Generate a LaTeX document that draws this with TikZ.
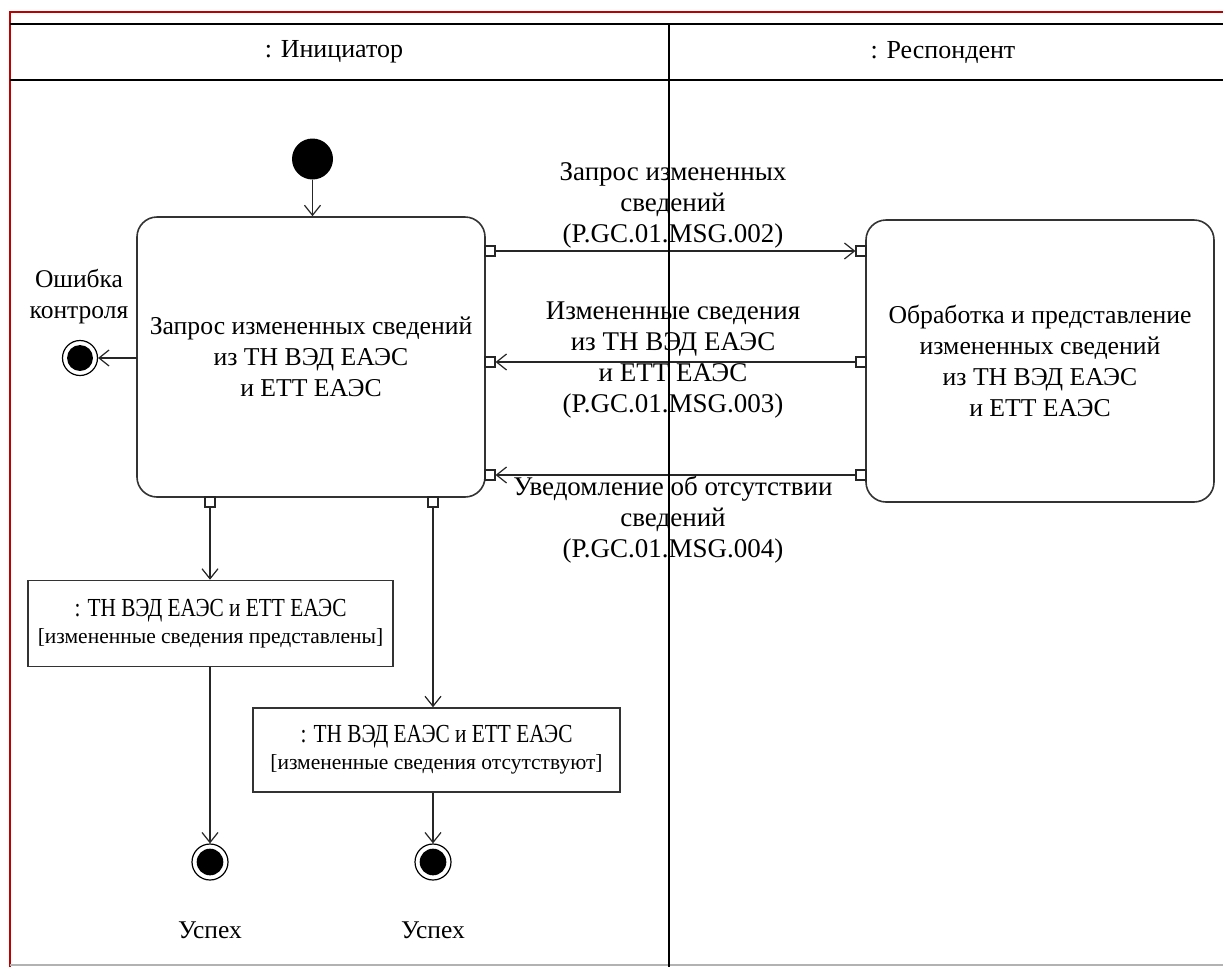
\documentclass[tikz,border=0pt]{standalone}
\usepackage{fontspec}
\setmainfont{Liberation Serif}
\usetikzlibrary{arrows.meta}
\begin{document}
\begin{tikzpicture}[x=1pt,y=-1pt,
  txt/.style={font=\fontsize{25.5}{31}\selectfont, align=center, inner sep=0pt},
  msg/.style={font=\fontsize{27}{31}\selectfont, align=center, inner sep=0pt},
  actbox/.style={draw=black!80, line width=1.6pt, rounded corners=20pt, fill=white, inner sep=0pt, align=center, font=\fontsize{25.7}{31}\selectfont},
  objbox/.style={draw=black!80, line width=1.6pt, fill=white, inner sep=0pt, align=center, font=\fontsize{21.5}{28}\selectfont},
  portbox/.style={draw=black!85, line width=1.2pt, fill=white, minimum size=10pt, inner sep=0pt},
  flow/.style={draw=black!85, line width=1.4pt, -{Straight Barb[length=10pt,width=16pt,line width=1.2pt]}},
  initnode/.style={circle, fill=black, minimum size=41pt, inner sep=0pt},
  finalnode/.style={circle, draw=black, line width=1.2pt, fill=white, minimum size=#1, inner sep=0pt,
     path picture={\fill[black] (path picture bounding box.center) circle (0.37*#1);}},
  lane/.style={draw=black, line width=1.5pt}
]
\useasboundingbox[fill=white] (0,0) rectangle (1223,967);

% frame
\draw[red!75!black, line width=1.3pt] (10,967) -- (10,12) -- (1223,12);
\draw[black!30, line width=1.2pt] (10,965) -- (1223,965);

% header texts
\node[txt, font=\fontsize{26}{31}\selectfont] (h1) at (334,52) {: Инициатор};
\node[txt, font=\fontsize{26}{31}\selectfont] (h2) at (943,52) {: Респондент};

% action boxes
\node[actbox, minimum width=348pt, minimum height=280pt] (req) at (311,357)
  {Запрос измененных сведений\\из ТН ВЭД ЕАЭС\\и ЕТТ ЕАЭС};
\node[actbox, minimum width=348pt, minimum height=282pt] (proc) at (1040,361)
  {Обработка и представление\\измененных сведений\\из ТН ВЭД ЕАЭС\\и ЕТТ ЕАЭС};

% initial
\node[initnode] (init) at (312.5,159) {};
\draw[flow] (init) -- (req.north -| init);

% error final
\node[finalnode=35pt] (ferr) at (80,358) {};
\node[txt] (lerr) at (79,297) {Ошибка\\контроля};
\coordinate (reqW) at (137,358);
\draw[flow] (reqW) -- (ferr);

% ports on req (right side) and proc (left side)
\node[portbox] (a1) at (490,251) {};
\node[portbox] (a2) at (490,362) {};
\node[portbox] (a3) at (490,475) {};
\node[portbox] (b1) at (861,251) {};
\node[portbox] (b2) at (861,362) {};
\node[portbox] (b3) at (861,475) {};
\draw[flow] (a1.east) -- (b1.west);
\draw[flow] (b2.west) -- (a2.east);
\draw[flow] (b3.west) -- (a3.east);

% message labels
\node[msg] (m1) at (673,205) {Запрос измененных\\сведений\\(P.GC.01.MSG.002)};
\node[msg] (m2) at (673,360) {Измененные сведения\\из ТН ВЭД ЕАЭС\\и ЕТТ ЕАЭС\\(P.GC.01.MSG.003)};
\node[msg] (m3) at (673,520) {Уведомление об отсутствии\\сведений\\(P.GC.01.MSG.004)};

% bottom ports
\node[portbox] (c1) at (210,502) {};
\node[portbox] (c2) at (433,502) {};

% object boxes
\node[objbox, minimum width=365pt, minimum height=86pt] (o1) at (210.5,623.5)
  {\scalebox{0.82}[1]{\fontsize{26}{28}\selectfont : ТН ВЭД ЕАЭС и ЕТТ ЕАЭС}\\[-1pt][измененные сведения представлены]};
\node[objbox, minimum width=367pt, minimum height=84pt] (o2) at (436.5,750)
  {\scalebox{0.82}[1]{\fontsize{26}{28}\selectfont : ТН ВЭД ЕАЭС и ЕТТ ЕАЭС}\\[-1pt][измененные сведения отсутствуют]};

\draw[flow] (c1.south) -- (o1.north -| c1);
\draw[flow] (c2.south) -- (o2.north -| c2);

% success finals
\node[finalnode=36pt] (f1) at (210,862) {};
\node[finalnode=36pt] (f2) at (433,862) {};
\node[txt] (s1) at (210,930) {Успех};
\node[txt] (s2) at (433,930) {Успех};
\draw[flow] (o1.south -| f1) -- (f1);
\draw[flow] (o2.south -| f2) -- (f2);

% lanes (drawn on top)
\draw[lane] (10,24) -- (1223,24);
\draw[lane] (10,80) -- (1223,80);
\draw[lane] (669,24) -- (669,967);
\end{tikzpicture}
\end{document}
